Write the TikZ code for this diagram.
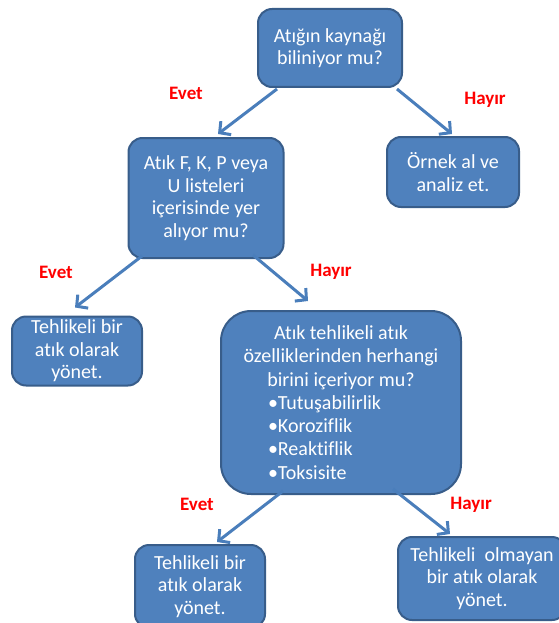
\documentclass[tikz,border=0pt]{standalone}
\usepackage{fontspec}
\setmainfont{Carlito}[Ligatures={NoCommon}]
\definecolor{boxColour}{RGB}{79, 129, 189}
\definecolor{boxBorder}{RGB}{56, 93, 138}
\definecolor{arrowColour}{RGB}{74, 126, 187}
\definecolor{answerColour}{RGB}{255, 0, 0}
\usetikzlibrary{
    arrows.meta
}
\tikzset{
    flowDiagram/.style={
        question/.style={
            rectangle,
            rounded corners=14pt,
            draw=boxBorder,
            line width=2pt,
            fill=boxColour,
            text=white,
            align=center,
            inner sep=0pt,
            font=\fontsize{20}{22.5}\selectfont,
        },
        answer/.style={
            text=answerColour,
            inner sep=0pt,
            font=\fontsize{19}{21}\selectfont\bfseries,
        },
        flow/.style={
            draw=arrowColour,
            line width=3pt,
            -{Straight Barb[length=8pt, width=17pt]},
        },
    }
}
\begin{document}
\begin{tikzpicture}[x=1pt, y=-1pt, flowDiagram]
    \useasboundingbox (0,0) rectangle (558,623);

    \begin{scope}
        \node[question, minimum width=144pt, minimum height=78pt] (s1_source) at (330,48)
            {Atığın kaynağı\\biliniyor mu?};
        \node[question, minimum width=155pt, minimum height=120pt] (s2_lists) at (206,198)
            {Atık F, K, P veya\\U listeleri\\içerisinde yer\\alıyor mu?};
        \node[question, minimum width=132pt, minimum height=70pt] (s2_sample) at (453,172)
            {Örnek al ve\\analiz et.};
        \node[question, minimum width=130pt, minimum height=69pt] (s3_hazard) at (77,351)
            {Tehlikeli bir\\atık olarak\\yönet.};
        \node[question, rounded corners=30pt, minimum width=240pt, minimum height=183pt,
              font=\fontsize{20}{23.3}\selectfont] (s3_props) at (341,402.5)
            {Atık tehlikeli atık\\özelliklerinden herhangi\\birini içeriyor mu?\\
             \makebox[146pt][l]{\textbullet Tutuşabilirlik}\\
             \makebox[146pt][l]{\textbullet Koroziflik}\\
             \makebox[146pt][l]{\textbullet Reaktiflik}\\
             \makebox[146pt][l]{\textbullet Toksisite}};
        \node[question, minimum width=130pt, minimum height=83pt] (s4_hazard) at (200,586.5)
            {Tehlikeli bir\\atık olarak\\yönet.};
        \node[question, minimum width=168pt, minimum height=83pt] (s4_nonhazard) at (482,578.5)
            {Tehlikeli\ \ olmayan\\bir atık olarak\\yönet.};
    \end{scope}

    \begin{scope}
        \node[answer] (s1_yes) at (186,93) {Evet};
        \node[answer] (s1_no) at (485,100) {Hayır};
        \node[answer] (s2_yes) at (56,272) {Evet};
        \node[answer] (s2_no) at (331,272) {Hayır};
        \node[answer] (s3_yes) at (197,504) {Evet};
        \node[answer] (s3_no) at (471,505) {Hayır};
    \end{scope}

    \begin{scope}[every edge/.style={flow}]
        \path ([xshift=-53pt, yshift=-1pt]s1_source.south) edge ([xshift=12pt, yshift=3pt]s2_lists.north);
        \path ([xshift=67pt, yshift=-1pt]s1_source.south) edge ([xshift=-1pt, yshift=2pt]s2_sample.north);
        \path ([xshift=-64pt, yshift=3pt]s2_lists.south) edge ([xshift=-2pt, yshift=8pt]s3_hazard.north);
        \path ([xshift=47pt, yshift=4pt]s2_lists.south) edge ([xshift=-33pt, yshift=9pt]s3_props.north);
        \path ([xshift=-58pt, yshift=4pt]s3_props.south) edge ([xshift=17pt, yshift=2pt]s4_hazard.north);
        \path ([xshift=52pt, yshift=6pt]s3_props.south) edge ([xshift=-32pt, yshift=2pt]s4_nonhazard.north);
    \end{scope}
\end{tikzpicture}
\end{document}
